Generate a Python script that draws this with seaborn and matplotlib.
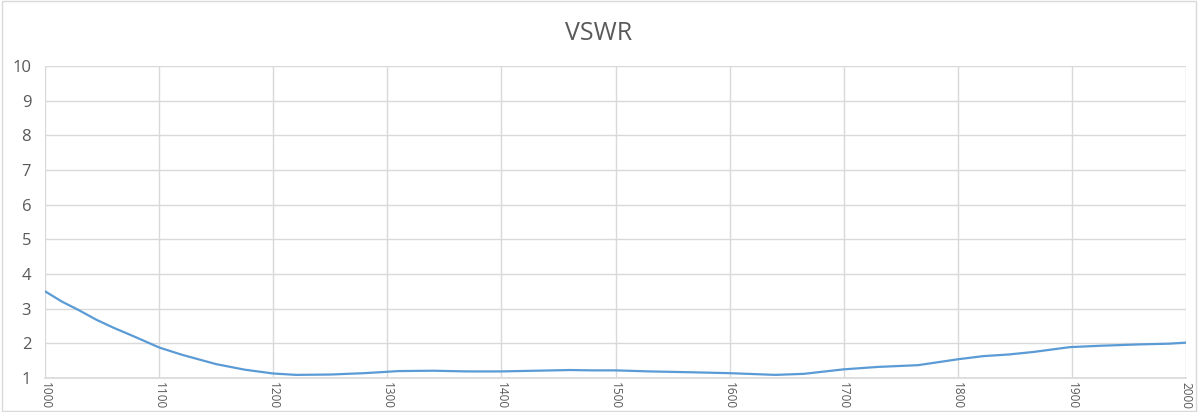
import matplotlib
matplotlib.use("Agg")
import matplotlib.pyplot as plt
import matplotlib.patches as patches
import seaborn as sns
import pandas as pd

# values
freq_mhz = [1000, 1015, 1030, 1045, 1060, 1080, 1100, 1120, 1150, 1175, 1200, 1220,
            1250, 1280, 1310, 1340, 1370, 1400, 1430, 1460, 1480, 1500, 1530, 1560,
            1600, 1640, 1665, 1700, 1730, 1765, 1800, 1822, 1845, 1866, 1898, 1925,
            1960, 1985, 2000]
vswr = [3.50, 3.20, 2.95, 2.68, 2.45, 2.17, 1.88, 1.67, 1.40, 1.24, 1.13, 1.09,
        1.10, 1.14, 1.20, 1.21, 1.19, 1.19, 1.21, 1.23, 1.22, 1.22, 1.19, 1.17,
        1.14, 1.09, 1.12, 1.25, 1.32, 1.37, 1.54, 1.63, 1.68, 1.75, 1.89, 1.93,
        1.97, 1.99, 2.02]
x_ticks = list(range(1000, 2001, 100))
y_ticks = list(range(1, 11))

df = pd.DataFrame({"freq": freq_mhz, "vswr": vswr})

sns.set_theme(style="white")
plt.rcParams['font.family'] = ['Open Sans', 'DejaVu Sans']

text_col = "#595959"
grid_col = "#D9D9D9"

fig, ax = plt.subplots(figsize=(11.98, 4.12), dpi=100)
fig.subplots_adjust(left=0.0376, right=0.99, top=0.84, bottom=0.0825)

sns.lineplot(data=df, x="freq", y="vswr", ax=ax, color="#5B9BD5", linewidth=1.6)

ax.set_xlim(1000, 2000)
ax.set_ylim(1, 10)
ax.set_xticks(x_ticks)
ax.set_yticks(y_ticks)
ax.set_xticklabels([str(t) for t in x_ticks], rotation=-90, fontsize=8.5, color=text_col)
ax.set_yticklabels([str(t) for t in y_ticks], fontsize=12, color=text_col)
ax.tick_params(axis="x", length=0, pad=3)
ax.tick_params(axis="y", length=0, pad=10)
ax.grid(True, color=grid_col, linewidth=1)
ax.set_axisbelow(True)
for side in ["top", "right", "left"]:
    ax.spines[side].set_visible(False)
ax.spines["bottom"].set_color(grid_col)
ax.spines["bottom"].set_linewidth(1.2)
ax.set_xlabel("")
ax.set_ylabel("")

fig.text(0.5, 0.918, "VSWR", ha="center", va="center", fontsize=18, color=text_col)

# chart border
fig.patches.append(patches.Rectangle((0.002, 0.003), 0.996, 0.994, transform=fig.transFigure,
                                     fill=False, edgecolor=grid_col, linewidth=1))

fig.savefig("out.png", dpi=100)
